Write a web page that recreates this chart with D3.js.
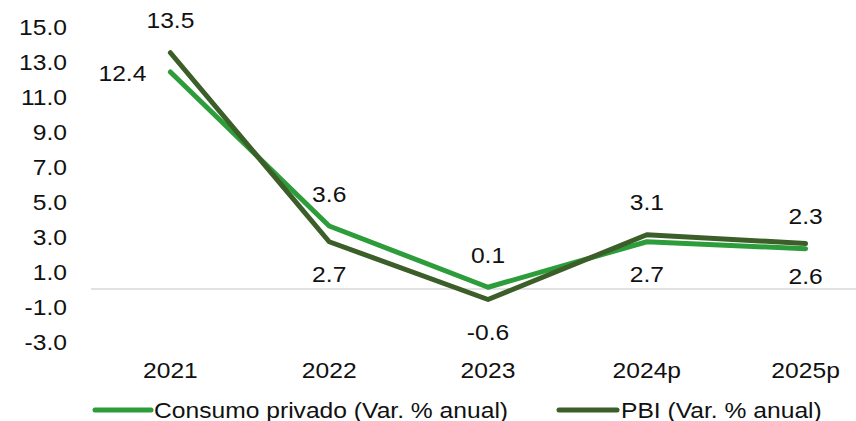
<!DOCTYPE html>
<html>
<head>
<meta charset="utf-8">
<script src="https://cdn.jsdelivr.net/npm/d3@7"></script>
<style>
  html, body { margin: 0; padding: 0; background: #fff; }
  svg text { font-family: "Liberation Sans", Arial, sans-serif; fill: #111; }
</style>
</head>
<body>
<svg id="chart" width="856" height="421"></svg>
<script>
// Annual growth, real % change
const years = ["2021", "2022", "2023", "2024p", "2025p"];
const consumo = [12.4, 3.6, 0.1, 2.7, 2.3];
const pbi = [13.5, 2.7, -0.6, 3.1, 2.6];
const yTicks = [-3, -1, 1, 3, 5, 7, 9, 11, 13, 15];
// where each value label sits relative to its point
const consumoLabelPos = ["left", "above", "above", "below", "above"];
const pbiLabelPos = ["above", "below", "below", "above", "below"];
const seriesNames = ["Consumo privado (Var. % anual)", "PBI (Var. % anual)"];
const colors = ["#2c9d3a", "#3c5e29"];

const FS = 22;       // font size
const SX = 1.12;     // horizontal text stretch

// one decimal, plain hyphen for negatives
const fmt = v => d3.format(".1f")(v).replace("\u2212", "-");

const svg = d3.select("#chart");

const x = d3.scaleBand().domain(years).range([91, 885]);
const y = d3.scaleLinear().domain([-3, 15]).range([341.5, 26.5]);
const cx = d => x(d) + x.bandwidth() / 2;

// zero reference line
svg.append("line")
  .attr("x1", 91).attr("x2", 856)
  .attr("y1", y(0)).attr("y2", y(0))
  .attr("stroke", "#d9d9d9").attr("stroke-width", 1.5);

// y axis labels
const yAxis = svg.append("g").attr("transform", "translate(67,0)")
  .call(d3.axisLeft(y).tickValues(yTicks).tickSize(0).tickPadding(0).tickFormat(fmt));
yAxis.select(".domain").remove();
yAxis.attr("font-family", null);
yAxis.selectAll("text")
  .attr("x", 0).attr("dy", "0.35em")
  .attr("font-size", FS)
  .attr("transform", `scale(${SX},1)`);

// x axis labels
const xAxis = svg.append("g").attr("transform", "translate(0,370)")
  .call(d3.axisBottom(x).tickSize(0).tickPadding(0));
xAxis.select(".domain").remove();
xAxis.attr("font-family", null);
xAxis.selectAll("text")
  .attr("y", 0).attr("dy", "0.35em")
  .attr("font-size", FS)
  .attr("transform", `scale(${SX},1)`);

const line = d3.line().x((d, i) => cx(years[i])).y(d => y(d));

const series = [
  { values: consumo, pos: consumoLabelPos, color: colors[0] },
  { values: pbi, pos: pbiLabelPos, color: colors[1] }
];

series.forEach(s => {
  svg.append("path")
    .datum(s.values)
    .attr("d", line)
    .attr("fill", "none")
    .attr("stroke", s.color)
    .attr("stroke-width", 5)
    .attr("stroke-linejoin", "round")
    .attr("stroke-linecap", "round");
});

// value labels
series.forEach(s => {
  s.values.forEach((v, i) => {
    let px = cx(years[i]), py = y(v);
    const p = s.pos[i];
    if (p === "above") py -= 32;
    else if (p === "below") py += 33;
    else if (p === "left") { px -= 48; py += 1; }
    svg.append("text")
      .attr("transform", `translate(${px},${py}) scale(${SX},1)`)
      .attr("text-anchor", "middle")
      .attr("dy", "0.35em")
      .attr("font-size", FS)
      .text(fmt(v));
  });
});

// legend
const legendItems = [
  { name: seriesNames[0], color: colors[0], x1: 95, x2: 151, tx: 154 },
  { name: seriesNames[1], color: colors[1], x1: 559, x2: 617, tx: 621 }
];
legendItems.forEach(l => {
  svg.append("line")
    .attr("x1", l.x1).attr("x2", l.x2)
    .attr("y1", 410).attr("y2", 410)
    .attr("stroke", l.color).attr("stroke-width", 5)
    .attr("stroke-linecap", "round");
  svg.append("text")
    .attr("transform", `translate(${l.tx},410) scale(${SX},1)`)
    .attr("dy", "0.35em")
    .attr("font-size", FS)
    .text(l.name);
});
</script>
</body>
</html>
